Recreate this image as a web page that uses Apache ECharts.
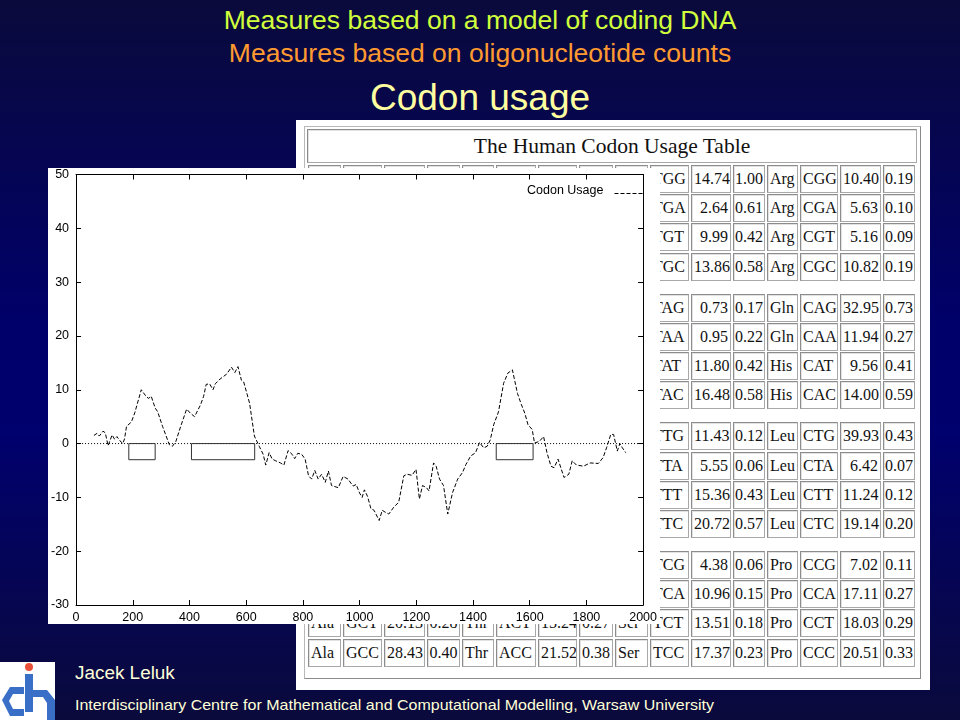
<!DOCTYPE html>
<html>
<head>
<meta charset="utf-8">
<script src="https://cdn.jsdelivr.net/npm/echarts/dist/echarts.min.js"></script>
<style>
  html, body { margin: 0; padding: 0; }
  #slide {
    position: relative; width: 960px; height: 720px; overflow: hidden;
    background: linear-gradient(to bottom, #0a0a3c 0%, #00006a 45%, #00006e 60%, #0a0a3c 100%);
    font-family: "Liberation Sans", Arial, sans-serif;
  }
  .ttl { position: absolute; left: 0; width: 960px; text-align: center; white-space: nowrap; }
  #tableImg { position: absolute; left: 296px; top: 120px; width: 634px; height: 570px; background: #fff; }
  .frame { position: absolute; border: 1px solid #b8b8b8; border-right-color: #8a8a8a; border-bottom-color: #8a8a8a; box-sizing: border-box; }
  .cell {
    position: absolute; box-sizing: border-box; background: #fff;
    border: 1px solid #a8a8a8; border-top-color: #8c8c8c; border-left-color: #8c8c8c;
    box-shadow: inset 1px 1px 0 #e2e2e2;
    font-family: "Liberation Serif", "Times New Roman", serif; font-size: 16px; color: #111;
    line-height: 26px; white-space: nowrap; overflow: hidden; padding: 0 3px;
  }
  #chart { position: absolute; left: 48px; top: 168px; width: 612px; height: 456px; background: #fff; }
  .foot { position: absolute; color: #ffffd8; white-space: nowrap; transform-origin: left center; }
</style>
</head>
<body>
<div id="slide">
  <div class="ttl" style="top:5px;font-size:26.5px;line-height:30px;color:#d2ff3c;">Measures based on a model of coding DNA</div>
  <div class="ttl" style="top:38px;font-size:26.5px;line-height:30px;color:#ff9a30;">Measures based on oligonucleotide counts</div>
  <div class="ttl" style="top:77px;font-size:37px;line-height:42px;color:#ffffa0;">Codon usage</div>

  <div id="tableImg"></div>
  <div id="chart"></div>

  <svg style="position:absolute;left:0;top:660px;" width="56" height="60" viewBox="0 0 56 60">
    <rect x="0" y="2" width="55" height="58" fill="#ffffff"/>
    <polygon points="2,40 10,27 24,27 24,34 13,34 9,41 13,49 24,49 24,56 10,56" fill="#3a6fc8"/>
    <rect x="25" y="14" width="8" height="38" fill="#3a6fc8"/>
    <circle cx="29" cy="7" r="4" fill="#e8503a"/>
    <polygon points="33,30 47,30 55,40 55,60 47,60 47,43 43,37 33,37" fill="#3a6fc8"/>
  </svg>
  <div class="foot" style="left:75px;top:662px;font-size:18px;line-height:22px;transform:scaleX(1.05);">Jacek Leluk</div>
  <div class="foot" style="left:75px;top:696px;font-size:15px;line-height:18px;transform:scaleX(1.067);">Interdisciplinary Centre for Mathematical and Computational Modelling, Warsaw University</div>
</div>

<script>
// ---------------- Data ----------------
// Codon usage profile (sequence position vs. score)
const positions = [63, 74, 82, 95, 103, 113, 127, 136, 144, 155, 165, 171, 178, 195, 207, 230, 248, 256, 265, 279, 288, 305, 329, 340, 352,
  369, 390, 404, 418, 439, 450, 459, 471, 483, 491, 508, 531, 548, 560, 571, 583, 591, 612, 629, 646, 660, 669, 681, 692, 704, 721,
  733, 748, 762, 771, 782, 796, 808, 820, 831, 842, 854, 866, 879, 890, 901, 925, 942, 959, 977, 988, 1000, 1009, 1017, 1028, 1040,
  1051, 1069, 1080, 1092, 1103, 1121, 1138, 1156, 1167, 1185, 1199, 1211, 1222, 1236, 1245, 1261, 1270, 1282, 1296, 1311, 1328,
  1346, 1363, 1375, 1392, 1409, 1423, 1438, 1450, 1461, 1473, 1490, 1508, 1523, 1539, 1548, 1557, 1571, 1583, 1594, 1609, 1617,
  1634, 1649, 1661, 1675, 1686, 1700, 1721, 1738, 1750, 1765, 1790, 1813, 1842, 1859, 1871, 1886, 1896, 1909, 1918, 1927, 1939];
const usage = [1.5, 1.9, 1.4, 2.3, 2.0, -0.4, 1.6, 0.8, 1.3, 0.5, 0.0, 0.9, 3.2, 4.0, 5.7, 10.0, 8.7, 8.4, 8.8, 6.6, 5.9, 3.2, -0.2, -0.5, 0.4,
  3.2, 6.4, 5.6, 5.0, 7.2, 8.8, 11.0, 11.1, 10.0, 11.1, 12.0, 12.9, 14.2, 13.2, 14.3, 11.8, 11.5, 7.5, 1.4, -0.5, -2.0, -4.0, -1.7, -2.9, -3.2, -3.6,
  -4.0, -1.3, -2.0, -2.8, -1.8, -2.0, -2.9, -6.0, -6.6, -5.0, -6.6, -5.7, -7.2, -5.1, -7.8, -8.2, -6.1, -6.6, -7.9, -7.6, -9.2, -10.0, -8.6, -9.8, -12.1,
  -12.4, -14.3, -12.4, -12.8, -13.1, -11.8, -10.9, -6.0, -5.7, -5.9, -4.8, -10.3, -7.8, -8.2, -8.8, -3.6, -4.2, -6.6, -7.8, -13.1, -9.1,
  -6.6, -5.4, -3.9, -2.3, -1.7, 0.2, -0.8, -0.5, 0.7, 3.5, 5.9, 11.2, 13.1, 13.7, 11.5, 9.3, 7.2, 5.6, 3.5, 2.6, 0.1,
  0.4, 1.3, -1.7, -4.2, -4.5, -2.9, -6.3, -5.7, -3.2, -4.0, -4.2, -3.6, -3.7, -2.6, -0.8, 1.7, 1.7, -1.4, 0.0, -0.8, -1.7];
// Marked regions (start, end) drawn as boxes below zero
const regionStarts = [186, 407, 1482];
const regionEnds = [279, 630, 1612];
const regionDepth = -3;
const xTicks = [0, 200, 400, 600, 800, 1000, 1200, 1400, 1600, 1800, 2000];
const yTicks = [-30, -20, -10, 0, 10, 20, 30, 40, 50];
const legendLabel = 'Codon Usage';

// Human codon usage table (blank where hidden in the picture)
const tableTitle = 'The Human Codon Usage Table';
const block1 = [
  ['Gly','GGG','','', 'Arg','AGG','','', 'Trp','TGG','14.74','1.00', 'Arg','CGG','10.40','0.19'],
  ['Gly','GGA','','', 'Arg','AGA','','', 'End','TGA','2.64','0.61', 'Arg','CGA','5.63','0.10'],
  ['Gly','GGT','','', 'Ser','AGT','','', 'Cys','TGT','9.99','0.42', 'Arg','CGT','5.16','0.09'],
  ['Gly','GGC','','', 'Ser','AGC','','', 'Cys','TGC','13.86','0.58', 'Arg','CGC','10.82','0.19']];
const block2 = [
  ['Glu','GAG','','', 'Lys','AAG','','', 'End','TAG','0.73','0.17', 'Gln','CAG','32.95','0.73'],
  ['Glu','GAA','','', 'Lys','AAA','','', 'End','TAA','0.95','0.22', 'Gln','CAA','11.94','0.27'],
  ['Asp','GAT','','', 'Asn','AAT','','', 'Tyr','TAT','11.80','0.42', 'His','CAT','9.56','0.41'],
  ['Asp','GAC','','', 'Asn','AAC','','', 'Tyr','TAC','16.48','0.58', 'His','CAC','14.00','0.59']];
const block3 = [
  ['Val','GTG','','', 'Met','ATG','','', 'Leu','TTG','11.43','0.12', 'Leu','CTG','39.93','0.43'],
  ['Val','GTA','','', 'Ile','ATA','','', 'Leu','TTA','5.55','0.06', 'Leu','CTA','6.42','0.07'],
  ['Val','GTT','','', 'Ile','ATT','','', 'Phe','TTT','15.36','0.43', 'Leu','CTT','11.24','0.12'],
  ['Val','GTC','','', 'Ile','ATC','','', 'Phe','TTC','20.72','0.57', 'Leu','CTC','19.14','0.20']];
const block4 = [
  ['Ala','GCG','','', 'Thr','ACG','','', 'Ser','TCG','4.38','0.06', 'Pro','CCG','7.02','0.11'],
  ['Ala','GCA','','', 'Thr','ACA','','', 'Ser','TCA','10.96','0.15', 'Pro','CCA','17.11','0.27'],
  ['Ala','GCT','20.13','0.28', 'Thr','ACT','15.24','0.27', 'Ser','TCT','13.51','0.18', 'Pro','CCT','18.03','0.29'],
  ['Ala','GCC','28.43','0.40', 'Thr','ACC','21.52','0.38', 'Ser','TCC','17.37','0.23', 'Pro','CCC','20.51','0.33']];

// ---------------- Table (background picture) ----------------
(function buildTable() {
  const slide = document.getElementById('slide');
  const chartEl = document.getElementById('chart');
  const colLeft = [308, 343, 384, 427, 462, 496, 538, 579, 615, 650, 691, 733, 767, 800, 840, 883];
  const colRight = 917;
  const add = (el) => slide.insertBefore(el, chartEl);
  const outer = document.createElement('div');
  outer.className = 'frame';
  Object.assign(outer.style, { left: '304px', top: '126px', width: '617px', height: '553px' });
  add(outer);
  const title = document.createElement('div');
  title.className = 'cell';
  Object.assign(title.style, { left: '307px', top: '129px', width: '610px', height: '34px', textAlign: 'center',
    fontSize: '21.5px', lineHeight: '32px' });
  title.textContent = tableTitle;
  add(title);
  const blocks = [block1, block2, block3, block4];
  blocks.forEach((blk, b) => {
    blk.forEach((row, r) => {
      const top = Math.round(165 + b * 128.7 + r * 29.2);
      row.forEach((txt, c) => {
        const d = document.createElement('div');
        d.className = 'cell';
        const l = colLeft[c];
        const w = (c < 15 ? colLeft[c + 1] : colRight) - l - 2;
        const kind = c % 4;
        Object.assign(d.style, { left: l + 'px', top: top + 'px', width: w + 'px', height: '28px',
          textAlign: kind === 2 ? 'right' : (kind === 3 ? 'center' : 'left'),
          padding: kind === 3 ? '0 1px' : '0 2px' });
        d.textContent = txt;
        add(d);
      });
    });
  });
})();

// ---------------- Chart ----------------
const chart = echarts.init(document.getElementById('chart'), null, { renderer: 'canvas' });
const usageData = positions.map((x, i) => [x, usage[i]]);
const boxSeries = regionStarts.map((s, i) => ({
  type: 'line', silent: true, symbol: 'none', animation: false, z: 3,
  lineStyle: { color: '#333', width: 1 },
  data: [[s, 0], [s, regionDepth], [regionEnds[i], regionDepth], [regionEnds[i], 0], [s, 0]]
}));
const axisCommon = {
  type: 'value', min: 0, max: 2000, interval: 200,
  axisLine: { show: true, onZero: false, lineStyle: { color: '#000', width: 1 } },
  axisTick: { show: true, inside: true, length: 5, lineStyle: { color: '#000' } },
  splitLine: { show: false }
};
const yCommon = {
  type: 'value', min: -30, max: 50, interval: 10,
  axisLine: { show: true, onZero: false, lineStyle: { color: '#000', width: 1 } },
  axisTick: { show: true, inside: true, length: 5, lineStyle: { color: '#000' } },
  splitLine: { show: false }
};
chart.setOption({
  animation: false,
  backgroundColor: '#ffffff',
  grid: { left: 25.5, right: 10, top: 5, bottom: 17, containLabel: false },
  xAxis: [
    Object.assign({}, axisCommon, { position: 'bottom',
      axisLabel: { color: '#000', fontSize: 12.5, margin: 6, fontFamily: 'Liberation Sans, Arial',
        formatter: (v) => xTicks.includes(v) ? String(v) : '' } }),
    Object.assign({}, axisCommon, { position: 'top', axisLabel: { show: false } })
  ],
  yAxis: [
    Object.assign({}, yCommon, { position: 'left',
      axisLabel: { color: '#000', fontSize: 12.5, margin: 7, fontFamily: 'Liberation Sans, Arial',
        formatter: (v) => yTicks.includes(v) ? String(v) : '' } }),
    Object.assign({}, yCommon, { position: 'right', axisLabel: { show: false } })
  ],
  series: [
    { type: 'line', name: 'zero', silent: true, symbol: 'none', z: 2,
      lineStyle: { color: '#000', width: 1, type: [1, 2] },
      data: [[xTicks[0], 0], [xTicks[xTicks.length - 1], 0]] },
    ...boxSeries,
    { type: 'line', name: legendLabel, symbol: 'none', z: 4,
      lineStyle: { color: '#000', width: 1, type: [4, 2] },
      data: usageData }
  ],
  graphic: [
    { type: 'text', left: 479, top: 16, style: { text: legendLabel, fill: '#000', font: '12.5px "Liberation Sans", Arial' } },
    { type: 'line', left: 564, top: 23, shape: { x1: 0, y1: 0, x2: 28, y2: 0 },
      style: { stroke: '#000', lineWidth: 1, lineDash: [4, 2] } }
  ]
});
</script>
</body>
</html>
